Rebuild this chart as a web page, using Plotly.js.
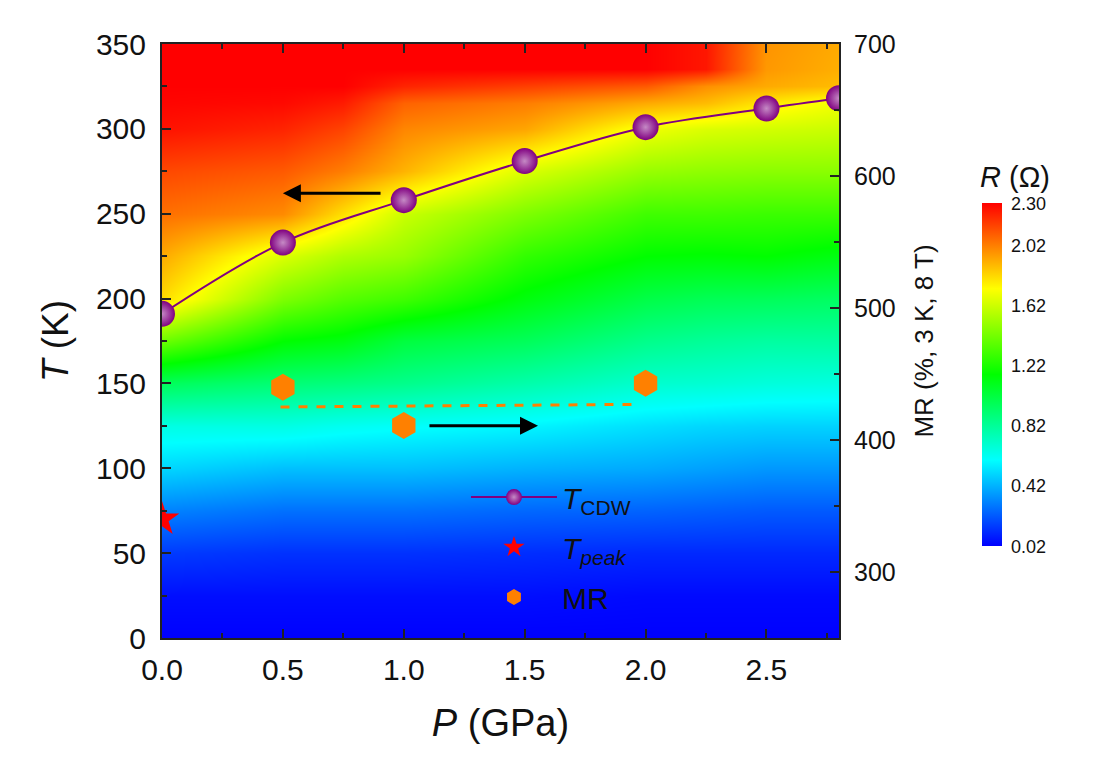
<!DOCTYPE html>
<html><head><meta charset="utf-8">
<script src="https://cdn.plot.ly/plotly-3.0.1.min.js"></script>
<style>html,body{margin:0;padding:0;background:#fff}</style>
</head><body><div id="chart" style="width:1099px;height:769px"></div>
<script>
// ---- heatmap grid: resistance R (Ohm) vs pressure P (GPa) and temperature T (K)
const P_grid = [0, 0.5, 0.75, 1.0, 1.5, 2.0, 2.25, 2.5, 2.8];
const T_grid = [0, 25, 50, 75, 100, 125, 150, 175, 200, 225, 250, 275, 300, 315, 325, 335, 350];
const R_grid = [
  [0.02, 0.02, 0.02, 0.02, 0.02, 0.02, 0.02, 0.02, 0.02],
  [0.05, 0.05, 0.05, 0.05, 0.05, 0.04, 0.04, 0.04, 0.04],
  [0.15, 0.13, 0.13, 0.13, 0.12, 0.11, 0.11, 0.11, 0.11],
  [0.31, 0.27, 0.27, 0.27, 0.25, 0.24, 0.23, 0.22, 0.22],
  [0.50, 0.45, 0.45, 0.45, 0.42, 0.40, 0.38, 0.36, 0.36],
  [0.65, 0.65, 0.62, 0.60, 0.57, 0.52, 0.50, 0.49, 0.49],
  [0.96, 0.90, 0.88, 0.85, 0.78, 0.70, 0.69, 0.67, 0.66],
  [1.40, 1.16, 1.12, 1.02, 0.96, 0.85, 0.82, 0.80, 0.80],
  [1.81, 1.44, 1.35, 1.30, 1.13, 1.00, 0.97, 0.96, 0.94],
  [1.92, 1.65, 1.55, 1.50, 1.27, 1.16, 1.15, 1.16, 1.12],
  [2.05, 1.99, 1.80, 1.61, 1.44, 1.30, 1.30, 1.29, 1.29],
  [2.14, 2.10, 2.02, 1.90, 1.65, 1.50, 1.48, 1.47, 1.47],
  [2.26, 2.22, 2.15, 2.00, 1.93, 1.70, 1.65, 1.63, 1.61],
  [2.29, 2.28, 2.24, 2.08, 2.02, 1.92, 1.88, 1.78, 1.70],
  [2.30, 2.30, 2.30, 2.22, 2.16, 2.10, 1.98, 1.92, 1.88],
  [2.30, 2.30, 2.30, 2.30, 2.30, 2.30, 2.25, 1.96, 1.91],
  [2.30, 2.30, 2.30, 2.30, 2.30, 2.30, 2.25, 1.97, 1.92]
];
const cbTickVals = [0.02, 0.42, 0.82, 1.22, 1.62, 2.02, 2.30];
const cbTickText = ['0.02', '0.42', '0.82', '1.22', '1.62', '2.02', '2.30'];

// ---- T_CDW
const P_cdw = [0, 0.5, 1.0, 1.5, 2.0, 2.5, 2.8];
const T_cdw = [191, 233, 258, 281, 301, 312, 318];
// ---- T_peak
const P_peak = [0];
const T_peak = [70];
// ---- MR (right axis)
const P_mr = [0.5, 1.0, 2.0];
const MR_val = [440, 411, 443];
const P_mrfit = [0.49, 1.97];
const MR_fit = [425, 427];

// ---- arrows (head, tail) in data units of the left axis
const arrowL = {head: [0.50, 262], tail: [0.91, 262]};
const arrowR = {head: [1.555, 125], tail: [1.10, 125]};

const FONT = 'Liberation Sans, Arial, Helvetica, sans-serif';

const traces = [
  {
    type: 'heatmap', x: P_grid, y: T_grid, z: R_grid,
    zmin: 0.02, zmax: 2.30, zsmooth: 'best',
    colorscale: [[0, 'rgb(0,0,255)'], [0.25, 'rgb(0,255,255)'], [0.5, 'rgb(0,255,0)'],
                 [0.75, 'rgb(255,255,0)'], [1, 'rgb(255,0,0)']],
    showscale: true, hoverinfo: 'skip',
    colorbar: {
      x: 1.197, xanchor: 'left', y: 0.732, yanchor: 'top',
      len: 343, lenmode: 'pixels', thickness: 20, thicknessmode: 'pixels',
      ypad: 0, outlinewidth: 0, ticks: 'outside', ticklen: 6, tickcolor: 'rgba(0,0,0,0)',
      tickvals: cbTickVals, ticktext: cbTickText,
      tickfont: {family: FONT, size: 18, color: '#111'}
    }
  },
  {
    type: 'scatter', x: P_mrfit, y: MR_fit, yaxis: 'y2', mode: 'lines',
    line: {color: '#ff8000', width: 3, dash: 'dash'}, showlegend: false, hoverinfo: 'skip'
  },
  {
    type: 'scatter', x: P_cdw, y: T_cdw, mode: 'lines+markers', name: '<i>T</i><sub>CDW</sub>',
    legendgroup: 'a',
    line: {color: '#800080', width: 2, shape: 'spline', smoothing: 1},
    marker: {symbol: 'circle', size: 26, color: '#800080',
             gradient: {type: 'radial', color: '#c58ac5'}, line: {width: 0}}
  },
  {
    type: 'scatter', x: P_peak, y: T_peak, mode: 'markers', name: '<i>T</i><sub><i>peak</i></sub>',
    legendgroup: 'b',
    marker: {symbol: 'star', size: 26, color: '#ff0000', line: {width: 0}}
  },
  {
    type: 'scatter', x: P_mr, y: MR_val, yaxis: 'y2', mode: 'markers', name: 'MR',
    legendgroup: 'c',
    marker: {symbol: 'hexagon', size: 27, color: '#ff8000', line: {width: 0}}
  }
];

const axisCommon = {
  showline: true, linecolor: '#222', linewidth: 2, ticks: 'inside', ticklen: 9, tickwidth: 2,
  tickcolor: '#222', showgrid: false, zeroline: false,
  tickfont: {family: FONT, size: 30, color: '#111'}
};

const layout = {
  width: 1099, height: 769,
  margin: {l: 162, r: 260, t: 44, b: 131},
  paper_bgcolor: '#fff', plot_bgcolor: '#fff',
  font: {family: FONT, color: '#111'},
  xaxis: Object.assign({}, axisCommon, {
    range: [0, 2.8], dtick: 0.5, tick0: 0, tickformat: '.1f', mirror: 'ticks',
    ticklabelstandoff: 4,
    minor: {dtick: 0.25, ticks: 'inside', ticklen: 5, tickwidth: 2, tickcolor: '#222'},
    title: {text: '<i>P</i> (GPa)', font: {family: FONT, size: 38, color: '#111'}, standoff: 24}
  }),
  yaxis: Object.assign({}, axisCommon, {
    range: [0, 350], dtick: 50, tick0: 0, ticklabelstandoff: 8,
    minor: {dtick: 25, ticks: 'inside', ticklen: 5, tickwidth: 2, tickcolor: '#222'},
    title: {text: '<i>T</i> (K)', font: {family: FONT, size: 37, color: '#111'}, standoff: 16}
  }),
  yaxis2: Object.assign({}, axisCommon, {
    overlaying: 'y', side: 'right', range: [250, 700], dtick: 100, tick0: 0,
    ticklabelstandoff: 8,
    tickfont: {family: FONT, size: 25, color: '#111'},
    minor: {dtick: 50, ticks: 'inside', ticklen: 5, tickwidth: 2, tickcolor: '#222'},
    title: {text: 'MR (%, 3 K, 8 T)', font: {family: FONT, size: 26, color: '#111'}, standoff: 20}
  }),
  legend: {
    x: 0.449, y: 0.281, xanchor: 'left', yanchor: 'top', bgcolor: 'rgba(0,0,0,0)',
    font: {family: FONT, size: 30, color: '#111'}, itemwidth: 86, tracegroupgap: 8
  },
  annotations: [
    {x: arrowL.head[0], y: arrowL.head[1], ax: arrowL.tail[0], ay: arrowL.tail[1],
     xref: 'x', yref: 'y', axref: 'x', ayref: 'y', text: '', showarrow: true,
     arrowhead: 2, arrowsize: 1.2, arrowwidth: 3, arrowcolor: '#000'},
    {x: arrowR.head[0], y: arrowR.head[1], ax: arrowR.tail[0], ay: arrowR.tail[1],
     xref: 'x', yref: 'y', axref: 'x', ayref: 'y', text: '', showarrow: true,
     arrowhead: 2, arrowsize: 1.2, arrowwidth: 3, arrowcolor: '#000'},
    {text: '<i>R</i> (Ω)', xref: 'paper', yref: 'paper', x: 1.26, y: 0.776,
     xanchor: 'center', yanchor: 'middle', showarrow: false,
     font: {family: FONT, size: 29, color: '#111'}}
  ]
};

Plotly.newPlot('chart', traces, layout, {displayModeBar: false, staticPlot: true});
</script></body></html>
